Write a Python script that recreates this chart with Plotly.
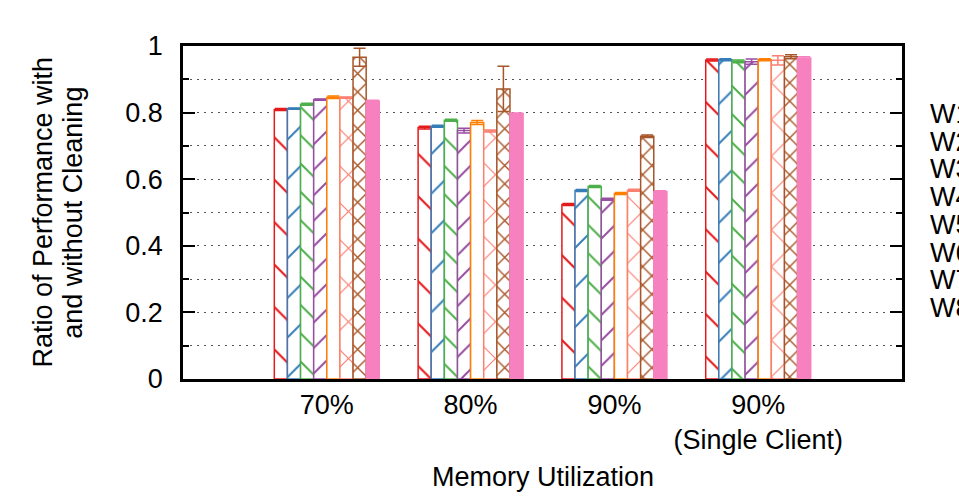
import plotly.graph_objects as go

# Cluster labels along the x axis
categories = ["70%", "80%", "90%", "90%<br>(Single Client)"]
series_names = ["W1", "W2", "W3", "W4", "W5", "W6", "W7", "W8"]

# Ratio of performance with / without cleaning, one list per workload
w1 = [0.809, 0.755, 0.524, 0.958]
w2 = [0.812, 0.759, 0.566, 0.959]
w3 = [0.825, 0.777, 0.578, 0.954]
w4 = [0.839, 0.746, 0.540, 0.953]
w5 = [0.846, 0.770, 0.557, 0.959]
w6 = [0.845, 0.745, 0.567, 0.957]
w7 = [0.966, 0.871, 0.729, 0.968]
w8 = [0.835, 0.797, 0.562, 0.964]

# Error (half range) for each bar
e1 = [0.003, 0.004, 0.003, 0.003]
e2 = [0.002, 0.003, 0.003, 0.003]
e3 = [0.003, 0.003, 0.003, 0.004]
e4 = [0.002, 0.007, 0.003, 0.008]
e5 = [0.004, 0.006, 0.003, 0.003]
e6 = [0.002, 0.003, 0.003, 0.014]
e7 = [0.027, 0.068, 0.004, 0.006]
e8 = [0.002, 0.002, 0.003, 0.004]

values = [w1, w2, w3, w4, w5, w6, w7, w8]
errors = [e1, e2, e3, e4, e5, e6, e7, e8]

colors = ["#e41a1c", "#377eb8", "#4daf4a", "#984ea3",
          "#ff7f00", "#fa8072", "#a65628", "#f781bf"]
# (shape, tile size, solidity) of the fill pattern; None = solid fill
patterns = [("\\", 30, 0.07), ("/", 28, 0.07), ("\\", 20, 0.1), ("/", 18, 0.11),
            ("", 10, 0), ("x", 26, 0.09), ("x", 13, 0.2), None]

FONT = "Liberation Sans, Arial, Helvetica, sans-serif"
FS = 27

fig = go.Figure()
for name, ys, errs, col, pat in zip(series_names, values, errors, colors, patterns):
    marker = dict(color=col, line=dict(color=col, width=1.5))
    if pat is not None:
        shape, size, solidity = pat
        if shape == "":
            marker["color"] = "white"
        else:
            marker["pattern"] = dict(shape=shape, size=size, solidity=solidity,
                                     fgcolor=col, bgcolor="white",
                                     fillmode="replace")
    fig.add_trace(go.Bar(
        x=categories, y=ys, name=name, marker=marker,
        error_y=dict(type="data", array=errs, visible=True,
                     color=col, thickness=1.5, width=6),
        showlegend=False,
    ))

fig.update_layout(
    width=959, height=500,
    margin=dict(l=183, r=57, t=46, b=121, autoexpand=False),
    paper_bgcolor="white", plot_bgcolor="white",
    barmode="group", bargap=0.27, bargroupgap=0,
    font=dict(family=FONT, size=FS, color="black"),
)

grid = dict(gridcolor="#555555", gridwidth=1.2, griddash="2px,5px")

fig.update_xaxes(
    type="category", range=[-1, 4],
    showline=True, linecolor="black", linewidth=2.5, mirror=True,
    ticks="", showgrid=False, zeroline=False,
    tickfont=dict(family=FONT, size=FS, color="black"),
)
fig.update_yaxes(
    range=[0, 1], dtick=0.2, tick0=0,
    showline=True, linecolor="black", linewidth=2.5, mirror="ticks",
    ticks="inside", ticklen=12, tickwidth=1.5, tickcolor="black",
    showgrid=True, zeroline=False, ticklabelstandoff=12,
    tickfont=dict(family=FONT, size=FS, color="black"),
    minor=dict(dtick=0.1, ticks="inside", ticklen=6, tickwidth=1.5,
               tickcolor="black", showgrid=True, **grid),
    **grid,
)

# Two-line y axis title
fig.add_annotation(text="Ratio of Performance with", xref="paper", yref="paper",
                   x=-0.196, y=0.5, xanchor="center", yanchor="middle",
                   textangle=-90, showarrow=False,
                   font=dict(family=FONT, size=FS, color="black"))
fig.add_annotation(text="and without Cleaning", xref="paper", yref="paper",
                   x=-0.154, y=0.5, xanchor="center", yanchor="middle",
                   textangle=-90, showarrow=False,
                   font=dict(family=FONT, size=FS, color="black"))

# x axis title
fig.add_annotation(text="Memory Utilization", xref="paper", yref="paper",
                   x=0.5, y=-0.294, xanchor="center", yanchor="middle",
                   showarrow=False, font=dict(family=FONT, size=FS, color="black"))

# Key entries to the right of the plot
for i, name in enumerate(series_names):
    ypx = 114 + 27.7 * i
    fig.add_annotation(text=name, xref="paper", yref="paper",
                       x=(928 - 183) / 719, y=(379 - ypx) / 333,
                       xanchor="left", yanchor="middle", showarrow=False,
                       font=dict(family=FONT, size=FS, color="black"))

fig.write_html("out.html")
